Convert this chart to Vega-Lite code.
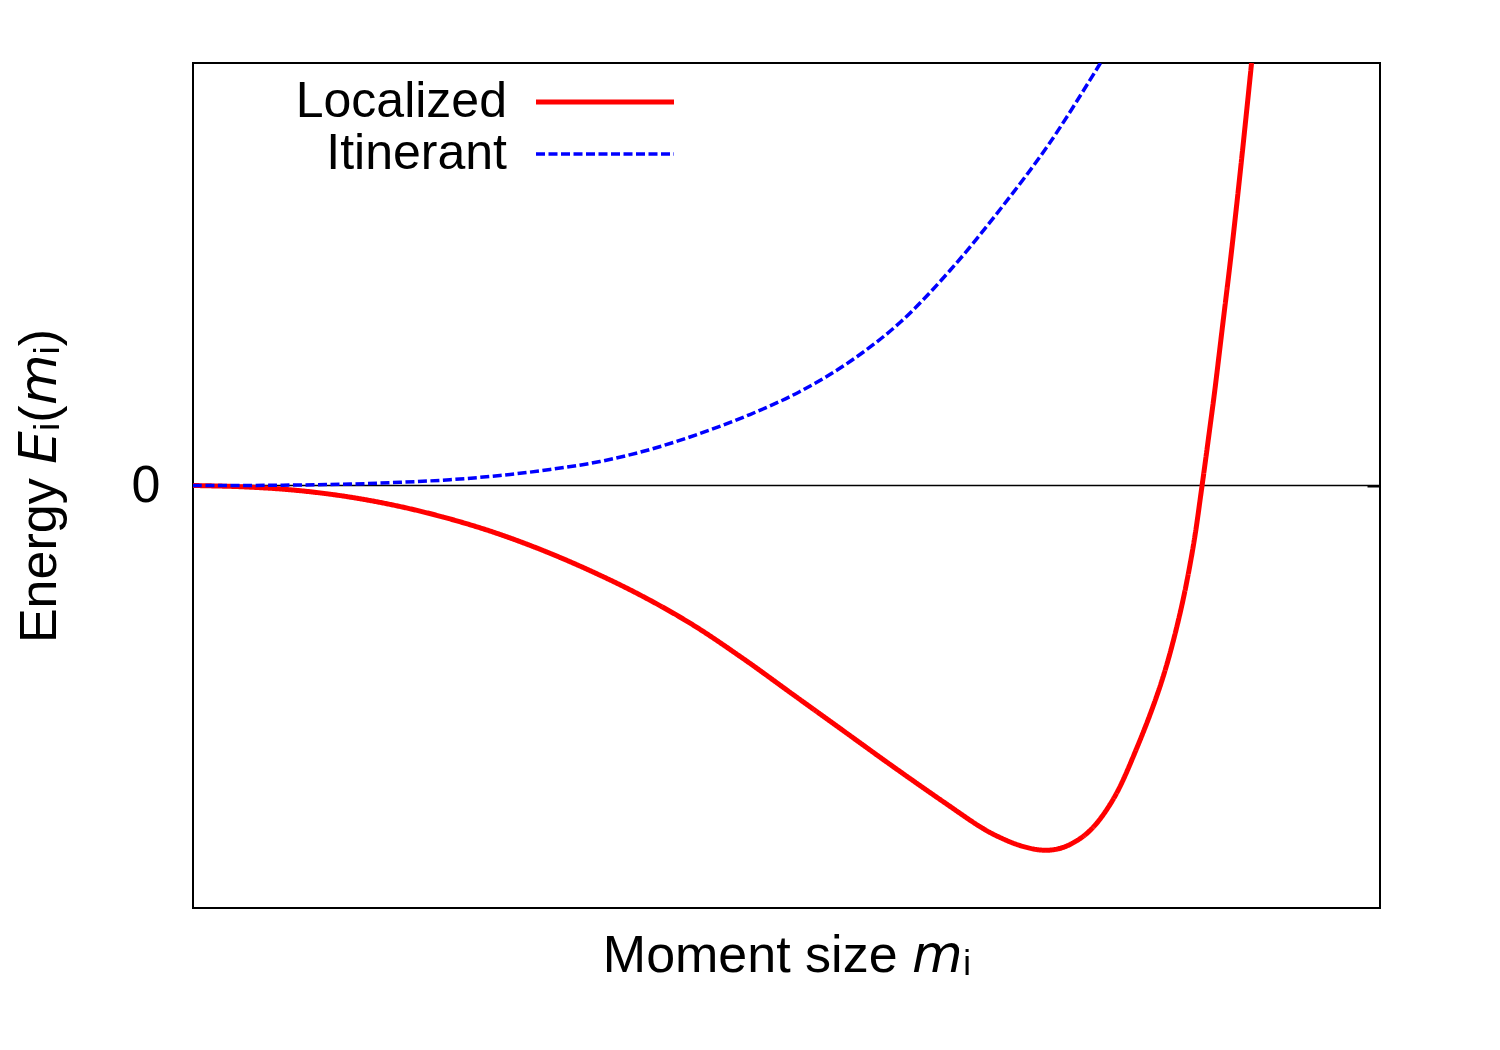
{
  "$schema": "https://vega.github.io/schema/vega-lite/v6.json",
  "width": 1187,
  "height": 845,
  "autosize": {"type": "none"},
  "padding": {"left": 193, "top": 63, "right": 120, "bottom": 142},
  "background": "white",
  "config": {
    "view": {"stroke": "black", "strokeWidth": 2},
    "font": "Liberation Sans"
  },
  "datasets": {
    "curves": [
      {"series": "Localized", "m": 0, "e": 0},
      {"series": "Localized", "m": 0.0421, "e": -0.0031},
      {"series": "Localized", "m": 0.0842, "e": -0.0107},
      {"series": "Localized", "m": 0.1264, "e": -0.0249},
      {"series": "Localized", "m": 0.1685, "e": -0.0462},
      {"series": "Localized", "m": 0.2106, "e": -0.0746},
      {"series": "Localized", "m": 0.2527, "e": -0.1101},
      {"series": "Localized", "m": 0.2949, "e": -0.1538},
      {"series": "Localized", "m": 0.337, "e": -0.2047},
      {"series": "Localized", "m": 0.3791, "e": -0.2627},
      {"series": "Localized", "m": 0.4212, "e": -0.33},
      {"series": "Localized", "m": 0.4634, "e": -0.4095},
      {"series": "Localized", "m": 0.5055, "e": -0.4947},
      {"series": "Localized", "m": 0.5476, "e": -0.5799},
      {"series": "Localized", "m": 0.5897, "e": -0.6651},
      {"series": "Localized", "m": 0.6318, "e": -0.7479},
      {"series": "Localized", "m": 0.6655, "e": -0.8118},
      {"series": "Localized", "m": 0.6799, "e": -0.8331},
      {"series": "Localized", "m": 0.6967, "e": -0.8521},
      {"series": "Localized", "m": 0.7136, "e": -0.8627},
      {"series": "Localized", "m": 0.7262, "e": -0.8615},
      {"series": "Localized", "m": 0.7388, "e": -0.8497},
      {"series": "Localized", "m": 0.7557, "e": -0.8166},
      {"series": "Localized", "m": 0.7751, "e": -0.7432},
      {"series": "Localized", "m": 0.7953, "e": -0.6201},
      {"series": "Localized", "m": 0.8163, "e": -0.4615},
      {"series": "Localized", "m": 0.8315, "e": -0.303},
      {"series": "Localized", "m": 0.8425, "e": -0.1467},
      {"series": "Localized", "m": 0.8501, "e": 0},
      {"series": "Localized", "m": 0.8576, "e": 0.1562},
      {"series": "Localized", "m": 0.8606, "e": 0.2201},
      {"series": "Localized", "m": 0.8673, "e": 0.3763},
      {"series": "Localized", "m": 0.8741, "e": 0.5349},
      {"series": "Localized", "m": 0.8804, "e": 0.6935},
      {"series": "Localized", "m": 0.8863, "e": 0.8497},
      {"series": "Localized", "m": 0.8918, "e": 1.0},
      {"series": "Itinerant", "m": 0, "e": 0},
      {"series": "Itinerant", "m": 0.048, "e": 0.0002},
      {"series": "Itinerant", "m": 0.0901, "e": 0.0012},
      {"series": "Itinerant", "m": 0.1323, "e": 0.0033},
      {"series": "Itinerant", "m": 0.1744, "e": 0.0076},
      {"series": "Itinerant", "m": 0.2165, "e": 0.0137},
      {"series": "Itinerant", "m": 0.2586, "e": 0.0237},
      {"series": "Itinerant", "m": 0.3008, "e": 0.0379},
      {"series": "Itinerant", "m": 0.3429, "e": 0.0568},
      {"series": "Itinerant", "m": 0.385, "e": 0.0852},
      {"series": "Itinerant", "m": 0.4271, "e": 0.1231},
      {"series": "Itinerant", "m": 0.4692, "e": 0.168},
      {"series": "Itinerant", "m": 0.5114, "e": 0.2225},
      {"series": "Itinerant", "m": 0.5535, "e": 0.2935},
      {"series": "Itinerant", "m": 0.5956, "e": 0.3858},
      {"series": "Itinerant", "m": 0.6377, "e": 0.5089},
      {"series": "Itinerant", "m": 0.6799, "e": 0.6533},
      {"series": "Itinerant", "m": 0.722, "e": 0.8118},
      {"series": "Itinerant", "m": 0.7645, "e": 1.0}
    ],
    "zero": [{"e": 0}]
  },
  "layer": [
    {
      "data": {"name": "zero"},
      "mark": {"type": "rule", "color": "black", "strokeWidth": 1.5},
      "encoding": {
        "y": {"field": "e", "type": "quantitative", "scale": {"domain": [-1, 1]}, "axis": null}
      }
    },
    {
      "data": {"name": "curves"},
      "transform": [{"filter": "datum.series === 'Localized'"}],
      "mark": {"type": "line", "interpolate": "catmull-rom", "clip": true},
      "encoding": {
        "x": {
          "field": "m", "type": "quantitative", "scale": {"domain": [0, 1]},
          "axis": {"title": "Moment size 𝘮ᵢ", "ticks": false, "labels": false, "domain": false, "grid": false,
                   "titleFontSize": 52, "titleFontWeight": "normal", "titlePadding": 22, "titleColor": "black", "titleFont": "Liberation Sans"}
        },
        "y": {
          "field": "e", "type": "quantitative", "scale": {"domain": [-1, 1]},
          "axis": {"title": "Energy 𝘌ᵢ(𝘮ᵢ)", "values": [0], "ticks": false, "domain": false, "grid": false,
                   "labelFontSize": 52, "labelPadding": 33, "labelColor": "black", "labelFont": "Liberation Sans",
                   "titleFontSize": 52, "titleFontWeight": "normal", "titleColor": "black", "titleFont": "Liberation Sans",
                   "titleAngle": -90, "titleX": -138, "titleY": 422.5, "titleAlign": "center", "titleBaseline": "alphabetic"}
        },
        "color": {
          "field": "series", "type": "nominal",
          "scale": {"domain": ["Localized", "Itinerant"], "range": ["#ff0000", "#0000ff"]},
          "legend": {"orient": "none", "legendX": 387, "legendY": 14, "title": null, "symbolType": "M-6.9,0H6.9",
                     "symbolSize": 400, "labelFontSize": 50, "labelAlign": "right", "labelOffset": -123,
                     "labelLimit": 600, "rowPadding": 2, "labelColor": "black", "labelFont": "Liberation Sans"}
        },
        "strokeDash": {
          "field": "series", "type": "nominal",
          "scale": {"domain": ["Localized", "Itinerant"], "range": [[1, 0], [9, 3.5]]}
        },
        "strokeWidth": {
          "field": "series", "type": "nominal",
          "scale": {"domain": ["Localized", "Itinerant"], "range": [5, 3.5]}
        }
      }
    },
    {
      "data": {"name": "curves"},
      "transform": [{"filter": "datum.series === 'Itinerant'"}],
      "mark": {"type": "line", "interpolate": "catmull-rom", "clip": true},
      "encoding": {
        "x": {"field": "m", "type": "quantitative", "scale": {"domain": [0, 1]}},
        "y": {
          "field": "e", "type": "quantitative", "scale": {"domain": [-1, 1]},
          "axis": {"orient": "right", "title": null, "values": [0], "labels": false, "domain": false, "grid": false,
                   "tickSize": -13, "tickWidth": 2, "tickColor": "black"}
        },
        "color": {"field": "series", "type": "nominal"},
        "strokeDash": {"field": "series", "type": "nominal"},
        "strokeWidth": {"field": "series", "type": "nominal"}
      }
    }
  ],
  "resolve": {"axis": {"y": "independent"}}
}
